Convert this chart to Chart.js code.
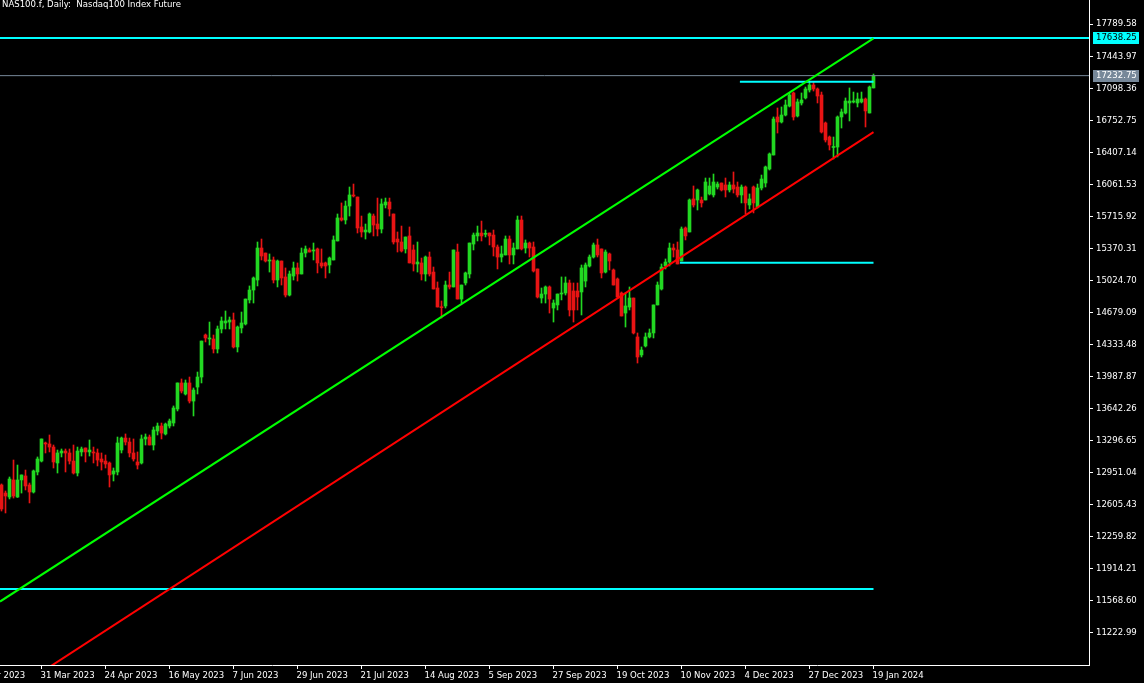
<!DOCTYPE html>
<html>
<head>
<meta charset="utf-8">
<script src="https://cdn.jsdelivr.net/npm/chart.js@4.4.0/dist/chart.umd.min.js"></script>
<style>
html, body { margin: 0; padding: 0; background: #000; overflow: hidden; }
#wrap { width: 1144px; height: 683px; }
</style>
</head>
<body>
<div id="wrap"><canvas id="myChart" width="1144" height="683"></canvas></div>
<script>

// daily candles, NAS100.f, bar 0 .. bar 218 (last = 19 Jan 2024)
opens = [
 12819,12732,12689,12873,12689,12873,12916,12819,12743,12959,
 13077,13272,13261,13228,13056,13164,13185,13164,13077,12948,
 13175,13218,13175,13175,13164,13099,13077,13056,12937,12959,
 13196,13325,13282,13164,13067,13056,13315,13336,13250,13401,
 13455,13369,13455,13487,13638,13919,13800,13919,13724,13875,
 13983,14436,14393,14393,14285,14501,14566,14576,14598,14307,
 14512,14555,14814,14921,15029,15374,15320,15234,15245,15029,
 15234,15062,14867,15072,15159,15094,15320,15353,15342,15364,
 15213,15213,15191,15245,15450,15698,15676,15827,15946,15924,
 15601,15547,15547,15719,15633,15579,15838,15870,15741,15471,
 15439,15364,15504,15353,15202,15213,15094,15277,15115,14943,
 14738,14749,14975,14954,15331,14824,14997,15094,15417,15504,
 15536,15522,15536,15514,15385,15277,15299,15471,15299,15364,
 15676,15374,15428,15385,15148,14835,14878,14954,14727,14760,
 14878,14889,14997,14911,14911,14900,15018,15180,15277,15407,
 15364,15115,15310,15137,15040,14889,14673,14738,14835,14415,
 14221,14318,14415,14458,14760,14932,15180,15223,15374,15353,
 15234,15590,15547,15903,15892,15892,15892,15957,15946,16032,
 16075,16054,16000,16054,16032,15946,16032,15838,16032,15816,
 16021,16075,16226,16377,16787,16733,16808,16905,17046,16798,
 16938,16992,17078,17132,17089,17024,16722,16571,16460,16463,
 16787,16830,16938,16949,16938,16949,16981,16830,17100
]
highs = [
 12830,12754,12905,13088,13034,12927,12980,12840,12980,13121,
 13315,13282,13358,13250,13196,13207,13207,13207,13250,13228,
 13228,13218,13304,13228,13207,13164,13142,13067,13002,13336,
 13336,13369,13325,13315,13175,13358,13369,13358,13444,13487,
 13487,13487,13530,13671,13919,13962,13951,13983,13865,14037,
 14371,14447,14576,14436,14533,14630,14695,14630,14673,14533,
 14684,14824,14965,15062,15439,15471,15320,15310,15277,15245,
 15234,15159,15126,15223,15213,15374,15396,15374,15428,15374,
 15364,15223,15277,15504,15741,15860,15881,16032,16064,15924,
 15719,15633,15752,15741,15913,15903,15913,15913,15741,15547,
 15611,15493,15601,15407,15439,15266,15288,15331,15169,15008,
 14803,15018,15115,15353,15417,14975,15115,15428,15536,15611,
 15665,15568,15536,15568,15407,15396,15504,15504,15428,15719,
 15719,15461,15439,15439,15148,14943,14965,14965,14814,14878,
 15062,15062,15029,14997,14997,15191,15213,15299,15428,15471,
 15364,15353,15320,15148,15051,14900,14889,14954,14835,14458,
 14307,14458,14501,14760,15008,15202,15256,15428,15417,15439,
 15601,15601,15903,16043,16010,15924,16129,16129,16172,16086,
 16075,16129,16086,16194,16086,16054,16043,15957,16043,16064,
 16161,16258,16399,16787,16884,16895,16970,17046,17056,16981,
 17046,17110,17164,17164,17100,17056,16733,16582,16571,16798,
 16873,16992,17100,17056,17046,17056,16992,17121,17250
]
lows = [
 12538,12517,12668,12678,12684,12732,12765,12625,12732,12927,
 13067,13164,13175,13002,12948,13121,12959,13045,12937,12916,
 13131,13067,13131,13056,13024,12980,13002,12797,12862,12927,
 13164,13250,13121,13077,12991,13045,13250,13250,13196,13358,
 13315,13358,13433,13455,13617,13811,13789,13703,13563,13800,
 13919,14361,14328,14242,14242,14458,14501,14501,14296,14253,
 14458,14544,14781,14781,14965,15245,15223,15115,14997,14954,
 14975,14846,14857,15029,15018,15094,15277,15331,15245,15105,
 15159,15051,15105,15245,15450,15665,15633,15719,15924,15536,
 15493,15471,15536,15504,15504,15536,15806,15719,15417,15331,
 15331,15320,15213,15126,15115,15029,15018,15072,14932,14738,
 14619,14727,14932,14954,14824,14781,14975,15051,15353,15450,
 15450,15493,15407,15288,15148,15223,15299,15202,15202,15364,
 15353,15320,15277,15115,14835,14781,14781,14673,14576,14706,
 14814,14867,14641,14576,14706,14652,14954,15169,15266,15277,
 15051,15105,15137,14975,14835,14641,14522,14706,14447,14134,
 14199,14307,14404,14404,14760,14921,15148,15180,15277,15202,
 15234,15461,15547,15816,15784,15816,15892,15946,15924,16010,
 15989,15924,15978,15967,15924,15860,15741,15795,15752,15806,
 16000,16032,16215,16377,16614,16722,16798,16895,16754,16787,
 16916,16981,17056,17067,16938,16614,16517,16431,16334,16356,
 16668,16819,16744,16938,16895,16938,16679,16830,17100
]
closes = [
 12560,12700,12883,12700,12873,12927,12808,12743,12970,13099,
 13315,13261,13228,13067,13164,13185,13164,13077,12948,13185,
 13207,13175,13196,13164,13088,13067,13045,12927,12970,13272,
 13325,13282,13164,13099,13034,13315,13336,13250,13412,13455,
 13379,13476,13509,13649,13919,13832,13919,13724,13843,13983,
 14371,14404,14404,14285,14501,14587,14587,14598,14307,14522,
 14566,14824,14921,15051,15374,15288,15234,15245,15029,15234,
 15051,14867,15094,15159,15094,15320,15364,15331,15353,15213,
 15180,15180,15266,15461,15698,15676,15827,15946,15935,15590,
 15547,15568,15741,15622,15579,15849,15870,15795,15439,15439,
 15342,15493,15213,15202,15223,15094,15277,15094,14932,14738,
 14733,14975,14954,15353,14824,14975,15105,15428,15514,15536,
 15504,15533,15504,15385,15277,15310,15471,15299,15374,15676,
 15364,15428,15374,15126,14846,14878,14954,14824,14781,14878,
 14889,14997,14706,14706,14846,15159,15191,15277,15407,15299,
 15105,15331,15234,14975,14846,14641,14749,14835,14458,14199,
 14274,14415,14458,14760,14975,15169,15223,15374,15353,15202,
 15579,15504,15892,15838,16000,15860,16086,16043,16086,16064,
 16000,16000,16054,16010,15946,16032,15860,15903,15860,16021,
 16118,16248,16388,16765,16733,16808,16916,17024,16787,16949,
 16970,17089,17132,17089,17013,16625,16539,16485,16467,16787,
 16841,16959,16959,16959,16981,16981,16852,17110,17232.75
]

// time axis labels (every 16 bars)
xTickBars = [-6, 10, 26, 42, 58, 74, 90, 106, 122, 138, 154, 170, 186, 202, 218]
xTickLabels = ['9 Mar 2023', '31 Mar 2023', '24 Apr 2023', '16 May 2023', '7 Jun 2023', '29 Jun 2023',
  '21 Jul 2023', '14 Aug 2023', '5 Sep 2023', '27 Sep 2023', '19 Oct 2023', '10 Nov 2023',
  '4 Dec 2023', '27 Dec 2023', '19 Jan 2024']

// price axis labels
yTicks = [17789.58, 17443.97, 17098.36, 16752.75, 16407.14, 16061.53, 15715.92, 15370.31, 15024.70, 14679.09,
  14333.48, 13987.87, 13642.26, 13296.65, 12951.04, 12605.43, 12259.82, 11914.21, 11568.60, 11222.99]

// horizontal levels: price, first bar, last bar
levelPrices = [17638.25, 17232.75, 17167, 15216, 11697]
levelFrom = [-2, -2, 184.6, 169.6, -2]
levelTo = [275, 275, 218, 218, 218]

// trend lines: [bar, price] at both ends
greenTrend = [[-0.375, 11562], [218, 17634]]
redTrend = [[-0.375, 10510], [218, 16623]]

// price tags on the axis
tagPrices = [17638.25, 17232.75]

const FONT = "'DejaVu Sans Condensed', 'Liberation Sans', sans-serif"
const upColor = '#22d822'
const downColor = '#e81414'
const cyan = '#00ffff'
const slate = '#778899'

candleColors = []
bodies = []
wicks = []
for (i = 0; i < opens.length; i++)
{
    let o = opens[i], c = closes[i]
    candleColors.push(c >= o ? upColor : downColor)
    // keep at least one pixel of body for doji candles
    if (Math.abs(c - o) < 11) {
        const m = (o + c) / 2
        o = m - 5.5
        c = m + 5.5
    }
    bodies.push({x: i, y: [o, c]})
    wicks.push({x: i, y: [lows[i], highs[i]]})
}

datasets = [{
    type: 'bar',
    label: 'wicks',
    data: wicks,
    backgroundColor: candleColors,
    barThickness: 1,
    grouped: false,
    order: 3
}, {
    type: 'bar',
    label: 'bodies',
    data: bodies,
    backgroundColor: candleColors,
    barThickness: 3,
    grouped: false,
    order: 2
}]

for (i = 0; i < levelPrices.length; i++)
{
    datasets.push({
        type: 'line',
        label: 'level ' + levelPrices[i],
        data: [{x: levelFrom[i], y: levelPrices[i]}, {x: levelTo[i], y: levelPrices[i]}],
        borderColor: i == 1 ? slate : cyan,
        borderWidth: i == 1 ? 1 : 2,
        pointRadius: 0,
        clip: 0,
        order: 1
    })
}

datasets.push({
    type: 'line',
    label: 'channel top',
    data: greenTrend.map(p => ({x: p[0], y: p[1]})),
    borderColor: '#00ff00',
    borderWidth: 2,
    pointRadius: 0,
    clip: 0,
    order: 0
}, {
    type: 'line',
    label: 'channel bottom',
    data: redTrend.map(p => ({x: p[0], y: p[1]})),
    borderColor: '#ff0000',
    borderWidth: 2,
    pointRadius: 0,
    clip: 0,
    order: 0
})

const headerPlugin = {
    id: 'header',
    afterDraw(chart) {
        const ctx = chart.ctx
        const y = chart.scales.y
        ctx.save()
        ctx.font = '9.5px ' + FONT
        ctx.textBaseline = 'middle'
        ctx.textAlign = 'left'
        ctx.fillStyle = '#ffffff'
        ctx.fillText('NAS100.f, Daily:  Nasdaq100 Index Future', 2, 5)
        for (let k = 0; k < tagPrices.length; k++) {
            const py = Math.round(y.getPixelForValue(tagPrices[k]))
            ctx.fillStyle = k == 0 ? cyan : slate
            ctx.fillRect(1093, py - 6, 46, 12)
            ctx.fillStyle = k == 0 ? '#000000' : '#ffffff'
            ctx.fillText(tagPrices[k].toFixed(2), 1096, py)
        }
        ctx.restore()
    }
}

const ctx = document.getElementById('myChart').getContext('2d')
const myChart = new Chart(ctx, {
    type: 'bar',
    data: { datasets: datasets },
    options: {
        responsive: false,
        animation: false,
        devicePixelRatio: 1,
        layout: { padding: 0 },
        plugins: {
            legend: { display: false },
            tooltip: { enabled: false },
            title: { display: false }
        },
        scales: {
            x: {
                type: 'linear',
                min: -0.375,
                max: 271.875,
                offset: false,
                afterBuildTicks: s => { s.ticks = xTickBars.map(v => ({value: v})) },
                afterFit: s => { s.height = 18; s.paddingLeft = 0; s.paddingRight = 0 },
                ticks: {
                    callback: (v, i) => xTickLabels[i],
                    autoSkip: false,
                    maxRotation: 0,
                    minRotation: 0,
                    align: 'start',
                    labelOffset: -1,
                    padding: 1,
                    color: '#ffffff',
                    font: { family: FONT, size: 9.5 }
                },
                grid: { display: true, drawOnChartArea: false, drawTicks: true, tickLength: 4, color: '#ffffff', offset: false },
                border: { display: true, color: '#ffffff', width: 1 }
            },
            y: {
                type: 'linear',
                position: 'right',
                min: 10877.7,
                max: 18048.4,
                afterBuildTicks: s => { s.ticks = yTicks.map(v => ({value: v})) },
                afterFit: s => { s.width = 55; s.paddingTop = 0; s.paddingBottom = 0 },
                ticks: {
                    callback: v => v.toFixed(2),
                    autoSkip: false,
                    padding: 3,
                    color: '#ffffff',
                    font: { family: FONT, size: 9.5 }
                },
                grid: { display: true, drawOnChartArea: false, drawTicks: true, tickLength: 4, color: '#ffffff' },
                border: { display: true, color: '#ffffff', width: 1 }
            }
        }
    },
    plugins: [headerPlugin]
});

</script>
</body>
</html>
